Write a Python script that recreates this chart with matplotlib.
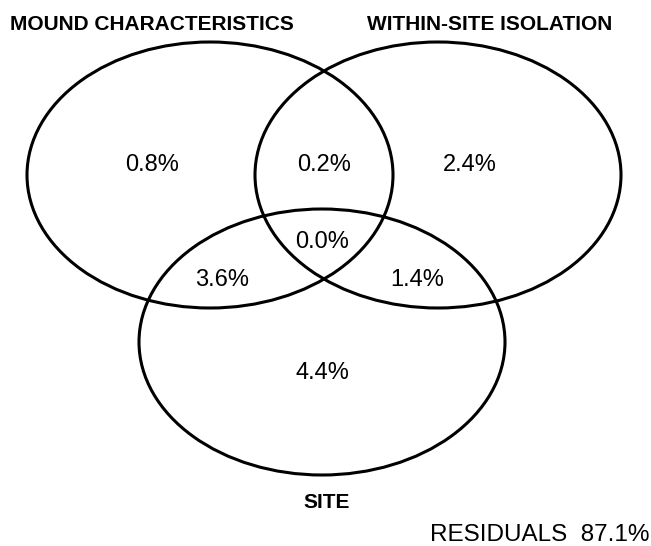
import matplotlib.pyplot as plt
from matplotlib.patches import Ellipse

# variance partitioning (percent of explained variance)
set_names = ['MOUND CHARACTERISTICS', 'WITHIN-SITE ISOLATION', 'SITE']
regions = ['mound', 'mound+iso', 'iso', 'all', 'mound+site', 'iso+site', 'site']
values = [0.8, 0.2, 2.4, 0.0, 3.6, 1.4, 4.4]
residuals = 87.1

# layout in pixel coords (y down)
centers = [(210, 175), (438, 175), (322, 342)]
ell_w, ell_h = 366, 266
region_xy = [(152, 165), (324, 165), (470, 165), (322, 242),
             (222, 280), (417, 280), (322, 373)]
name_xy = [(152, 24), (490, 24), (327, 503)]

plt.rcParams['font.family'] = ['Liberation Sans', 'DejaVu Sans']

fig = plt.figure(figsize=(6.51, 5.46), dpi=100)
ax = fig.add_axes([0, 0, 1, 1])
ax.set_xlim(0, 651)
ax.set_ylim(546, 0)
ax.axis('off')

for c in centers:
    ax.add_patch(Ellipse(c, ell_w, ell_h, fill=False, ec='black', lw=2.2))

for (x, y), v in zip(region_xy, values):
    ax.text(x, y, f'{v:.1f}%', ha='center', va='center', fontsize=17)

for (x, y), name in zip(name_xy, set_names):
    ax.text(x, y, name, ha='center', va='center', fontsize=15, fontweight='bold')

ax.text(649, 535, f'RESIDUALS  {residuals:.1f}%', ha='right', va='center', fontsize=17.5)

fig.savefig('out.png', dpi=100)
